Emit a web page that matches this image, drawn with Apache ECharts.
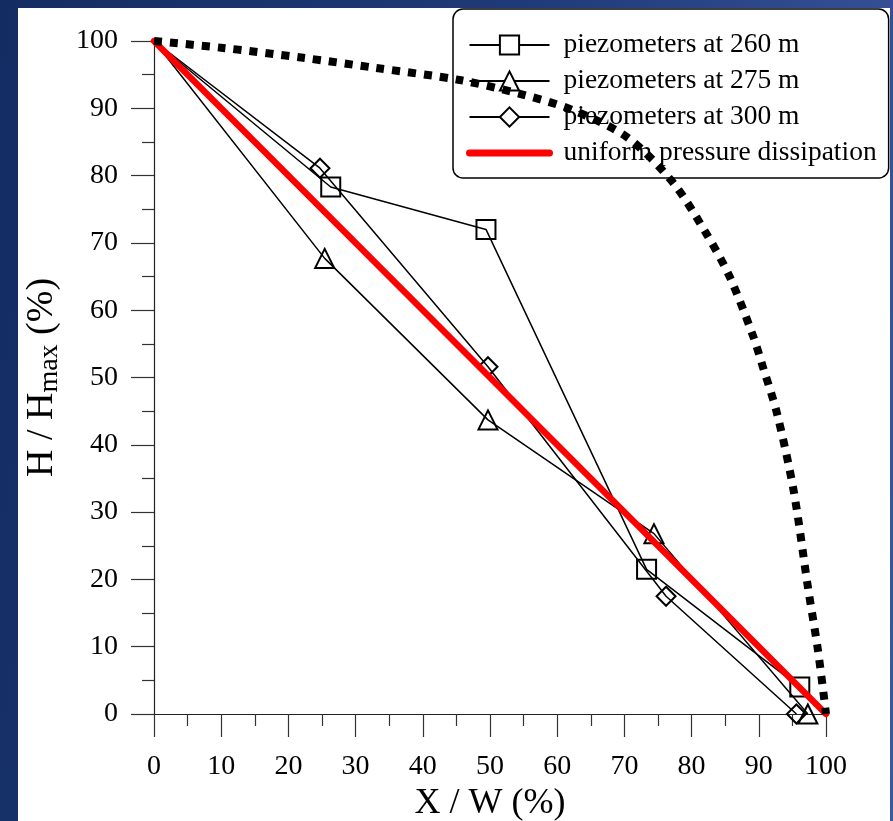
<!DOCTYPE html>
<html>
<head>
<meta charset="utf-8">
<script src="https://cdn.jsdelivr.net/npm/echarts@6/dist/echarts.min.js"></script>
<style>
  html, body { margin: 0; padding: 0; }
  body {
    width: 893px; height: 821px; overflow: hidden; position: relative;
    background: linear-gradient(100deg, #132c62 0%, #1f3a78 50%, #3d57a0 100%);
  }
  #main { position: absolute; left: 18px; top: 8px; width: 872px; height: 813px; background: #fff; }
</style>
</head>
<body>
<div id="main"></div>
<script>
// piezometer readings, [X/W %, H/Hmax %]
var piezo260 = [[0, 100], [26.3, 78.3], [49.4, 72], [73.3, 21.5], [96.1, 4]];
var piezo275 = [[0, 100], [25.4, 67.7], [49.7, 43.7], [74.4, 26.8], [97.3, 0]];
var piezo300 = [[0, 100], [24.7, 81.1], [49.7, 51.6], [76.2, 17.5], [95.6, 0]];
var uniform = [[0, 100], [100, 0]];
// dotted curve
var curve = [[0, 100], [10, 99], [22.2, 97.5], [33, 96], [45.5, 94.2], [55, 92], [62.4, 89.7],
    [70.4, 85.7], [77.2, 79], [82.3, 71.2], [85.7, 64.9], [89.1, 56.3], [90.6, 51.6],
    [92.7, 44.7], [95.2, 33.1], [97.3, 18.9], [98.8, 9.5], [100, 0]];
var seriesNames = ['piezometers at 260 m', 'piezometers at 275 m', 'piezometers at 300 m', 'uniform pressure dissipation'];

var FONT = 'Liberation Serif';

// first point (0,100) carries no marker
function withMarkers(arr) {
    return arr.map(function (p, i) {
        return i === 0 ? { value: p, symbol: 'none' } : p;
    });
}

function piezoSeries(name, data, symbol) {
    return {
        name: name,
        type: 'line',
        z: 3,
        data: withMarkers(data),
        symbol: symbol,
        symbolSize: 19,
        lineStyle: { color: '#000', width: 1.5 },
        itemStyle: { color: 'transparent', borderColor: '#000', borderWidth: 2 },
        emphasis: { disabled: true }
    };
}

var myChart = echarts.init(document.getElementById('main'));

var axisCommon = {
    type: 'value',
    min: 0,
    max: 100,
    interval: 10,
    axisLine: { show: true, onZero: false, lineStyle: { color: '#222', width: 1.2 } },
    axisTick: { show: true, inside: false, length: 23, lineStyle: { color: '#333', width: 1.2 } },
    minorTick: { show: true, splitNumber: 2, length: 12, lineStyle: { color: '#333', width: 1.2 } },
    splitLine: { show: false },
    axisLabel: { color: '#000', fontFamily: FONT, fontSize: 28, margin: 36 }
};

var option = {
    animation: false,
    grid: { left: 136, top: 33, right: 64, bottom: 107, containLabel: false, outerBoundsMode: 'none' },
    legend: {
        data: [
            { name: seriesNames[0], itemStyle: { color: '#fff' } },
            { name: seriesNames[1], itemStyle: { color: '#fff' } },
            { name: seriesNames[2], itemStyle: { color: '#fff' } },
            {
                name: seriesNames[3],
                itemStyle: { color: 'rgba(0,0,0,0)', borderWidth: 0, opacity: 0 },
                lineStyle: { color: '#ff0000', width: 7, cap: 'round' }
            }
        ],
        orient: 'vertical',
        left: 435,
        top: 1,
        z: 1,
        padding: [21, 12, 10, 13],
        itemWidth: 80,
        itemHeight: 24,
        itemGap: 6,
        selectedMode: false,
        backgroundColor: '#fff',
        borderColor: '#000',
        borderWidth: 1.5,
        borderRadius: 10,
        textStyle: { color: '#000', fontFamily: FONT, fontSize: 27.5, lineHeight: 30, padding: [0, 0, 0, 9] }
    },
    xAxis: Object.assign({}, axisCommon, {
        name: 'X / W (%)',
        nameLocation: 'middle',
        nameGap: 65,
        nameTextStyle: { color: '#000', fontFamily: FONT, fontSize: 36 },
        axisLabel: { color: '#000', fontFamily: FONT, fontSize: 28, margin: 39 }
    }),
    yAxis: Object.assign({}, axisCommon, {
        name: '{a|H / H}{b|max}{a| (%)}',
        nameLocation: 'middle',
        nameRotate: 90,
        nameGap: 90,
        nameTextStyle: {
            color: '#000',
            rich: {
                a: { fontFamily: FONT, fontSize: 38, color: '#000' },
                b: { fontFamily: FONT, fontSize: 28, color: '#000', padding: [16, 0, 0, 0] }
            }
        }
    }),
    series: [
        {
            name: 'curve',
            type: 'line',
            z: 5,
            data: curve,
            smooth: 0.3,
            symbol: 'none',
            lineStyle: { color: '#000', width: 8, type: [8, 8], cap: 'butt' },
            emphasis: { disabled: true }
        },
        piezoSeries(seriesNames[0], piezo260, 'rect'),
        piezoSeries(seriesNames[1], piezo275, 'triangle'),
        piezoSeries(seriesNames[2], piezo300, 'diamond'),
        {
            name: seriesNames[3],
            type: 'line',
            z: 4,
            data: uniform,
            symbol: 'none',
            itemStyle: { color: '#ff0000' },
            lineStyle: { color: '#ff0000', width: 6.5, cap: 'round' },
            emphasis: { disabled: true }
        }
    ]
};

myChart.setOption(option);
</script>
</body>
</html>
